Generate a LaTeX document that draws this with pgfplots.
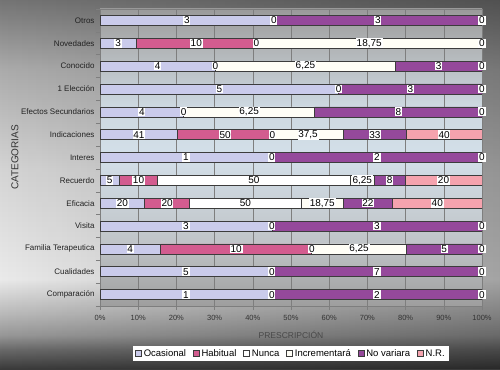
\documentclass[border=0pt]{standalone}
\usepackage{pgfplots}
\pgfplotsset{compat=1.18}
\usepackage{pgfplotstable}
\usetikzlibrary{fadings}
\usepackage{fontspec}
\setmainfont{Liberation Sans}

\definecolor{cOca}{HTML}{CACBEB}
\definecolor{cHab}{HTML}{D35C8F}
\definecolor{cNun}{HTML}{FFFFFF}
\definecolor{cInc}{HTML}{FFFEF6}
\definecolor{cNov}{HTML}{95499B}
\definecolor{cNR}{HTML}{F5A3AE}
\definecolor{edge}{HTML}{3C3C3C}
\definecolor{gridc}{HTML}{7E7E7E}
\definecolor{txt}{HTML}{222222}
\definecolor{lbl}{HTML}{333333}
\definecolor{xlab}{HTML}{484848}

\definecolor{bg0}{HTML}{3A3A3A}
\definecolor{bg1}{HTML}{6A6A6A}
\definecolor{bg2}{HTML}{979797}
\definecolor{bg2b}{HTML}{B8B8B8}
\definecolor{bg3}{HTML}{EAEAEA}
\definecolor{bg4}{HTML}{D4D4D4}
\definecolor{bg5}{HTML}{ABABAB}
\definecolor{bg6}{HTML}{747474}

\definecolor{pa0}{HTML}{9E9E9E}
\definecolor{pa1}{HTML}{BFC3C6}
\definecolor{pa2}{HTML}{D3DFE9}
\definecolor{pa3}{HTML}{CDD8E0}
\definecolor{pa4}{HTML}{B0B3B5}
\definecolor{pa5}{HTML}{9A9A9A}

% positions: 25bp = bottom of picture, 75bp = top (369pt)
\pgfdeclareverticalshading{bgsh}{100bp}{color(0bp)=(bg0); color(25bp)=(bg0); color(27.7bp)=(bg1); color(29.6bp)=(bg2); color(32.4bp)=(bg2b); color(37.2bp)=(bg3); color(52.1bp)=(bg4); color(65.65bp)=(bg5); color(75bp)=(bg6); color(100bp)=(bg6)}
\pgfdeclareverticalshading{plotsh}{100bp}{color(0bp)=(pa0); color(25bp)=(pa0); color(35.1bp)=(pa1); color(50.25bp)=(pa2); color(58.7bp)=(pa3); color(68.8bp)=(pa4); color(75bp)=(pa5); color(100bp)=(pa5)}

% Share (%) of each segment of the 100% stacked bars
% columns: Ocasional, Habitual, Nunca, Incrementara, No variara, N.R.
\pgfplotstableread{
y a b c d e f
0 45 0 0 0 55 0
1 45 0 0 0 55 0
2 15.84 39.60 0 24.75 19.81 0
3 45 0 0 0 55 0
4 11.71 11.71 29.28 10.98 12.89 23.43
5 5.04 10.08 50.38 6.30 8.06 20.14
6 45 0 0 0 55 0
7 20.35 24.81 0 18.61 16.38 19.85
8 21.92 0 0 34.25 43.83 0
9 62.5 0 0 0 37.5 0
10 30.19 0 0 47.17 22.64 0
11 9.45 31.50 0 59.05 0 0
12 45.5 0 0 0 54.5 0
}\data

% data labels: position (middle of segment, %), category row, text
\pgfplotstableread{
x y l
22.75 12 3
45.5 12 0
72.75 12 3
100 12 0
4.725 11 3
25.2 11 10
40.95 11 0
70.475 11 18,75
100 11 0
15.095 10 4
30.19 10 0
53.775 10 6,25
88.68 10 3
100 10 0
31.25 9 5
62.5 9 0
81.25 9 3
100 9 0
10.96 8 4
21.92 8 0
39.045 8 6,25
78.085 8 8
100 8 0
10.175 7 41
32.755 7 50
45.16 7 0
54.465 7 37,5
71.96 7 33
90.075 7 40
22.5 6 1
45 6 0
72.5 6 2
100 6 0
2.52 5 5
10.08 5 10
40.31 5 50
68.65 5 6,25
75.83 5 8
89.93 5 20
5.855 4 20
17.565 4 20
38.06 4 50
58.19 4 18,75
70.125 4 22
88.285 4 40
22.5 3 3
45 3 0
72.5 3 3
100 3 0
7.92 2 4
35.64 2 10
55.44 2 0
67.815 2 6,25
90.095 2 5
100 2 0
22.5 1 5
45 1 0
72.5 1 7
100 1 0
22.5 0 1
45 0 0
72.5 0 2
100 0 0
}\labels

\pgfplotsset{
  common/.style={
    at={(100pt,63pt)}, anchor=south west,
    scale only axis, width=382pt, height=297pt,
    xmin=0, xmax=100, ymin=-0.5, ymax=12.5,
  },
  seg/.style={fill=#1, draw=edge, line width=0.6pt},
}

\begin{document}
\begin{tikzpicture}
\shade[shading=bgsh] (0,0) rectangle (500pt,369pt);
\fill[black, opacity=0.3, path fading=west] (0,0) rectangle (500pt,369pt);

\begin{axis}[common,
  xbar stacked, bar width=10pt,
  axis background/.style={shading=plotsh},
  axis line style={gridc, line width=0.6pt},
  xmajorgrids, grid style={gridc, line width=0.5pt},
  xtick={0,10,...,100},
  xticklabels={0\%,10\%,20\%,30\%,40\%,50\%,60\%,70\%,80\%,90\%,100\%},
  ytick={0,...,12},
  yticklabels={Comparación,Cualidades,Familia Terapeutica,Visita,Eficacia,Recuerdo,Interes,Indicaciones,Efectos Secundarios,1 Elección,Conocido,Novedades,Otros},
  tick pos=left, tick align=outside,
  major tick length=0pt, minor tick length=4pt,
  minor xtick={0,10,...,100}, minor ytick={-0.5,0.5,...,12.5},
  minor tick style={gridc, line width=0.5pt},
  xticklabel style={font=\fontsize{7.5}{8}\selectfont, text=lbl, yshift=-6pt},
  yticklabel style={font=\fontsize{8}{9}\selectfont, text=txt, xshift=-2pt},
  xlabel={PRESCRIPCIÓN}, ylabel={CATEGORIAS},
  every axis x label/.style={at={(rel axis cs:0.5,-0.0976)}, anchor=center, font=\fontsize{8.5}{9}\selectfont, text=xlab},
  every axis y label/.style={at={(rel axis cs:-0.2225,0.5)}, anchor=center, rotate=90, font=\fontsize{10}{11}\selectfont, text=lbl},
  legend columns=6,
  legend style={at={(0.5,-0.16)}, anchor=center, fill=white, draw=none,
    font=\fontsize{9.5}{10}\selectfont, inner xsep=2pt, inner ysep=1pt,
    /tikz/every even column/.append style={column sep=5pt}},
  legend image code/.code={\draw[#1, line width=0.5pt] (0pt,-3pt) rectangle (6pt,3pt);},
]
\addplot[seg=cOca] table[x=a, y=y] {\data};
\addplot[seg=cHab] table[x=b, y=y] {\data};
\addplot[seg=cNun] table[x=c, y=y] {\data};
\addplot[seg=cInc] table[x=d, y=y] {\data};
\addplot[seg=cNov] table[x=e, y=y] {\data};
\addplot[seg=cNR] table[x=f, y=y] {\data};
\legend{Ocasional,Habitual,Nunca,Incrementará,No variara,N.R.}
\end{axis}

\begin{axis}[common, hide axis, clip=false]
\addplot[only marks, mark=*, mark size=0pt, mark options={draw=none, fill=none},
  nodes near coords, point meta=explicit symbolic,
  every node near coord/.append style={anchor=center, fill=white, inner sep=0.8pt, text=black, font=\fontsize{10}{10}\selectfont}]
  table[x=x, y=y, meta=l] {\labels};
\end{axis}
\end{tikzpicture}
\end{document}
